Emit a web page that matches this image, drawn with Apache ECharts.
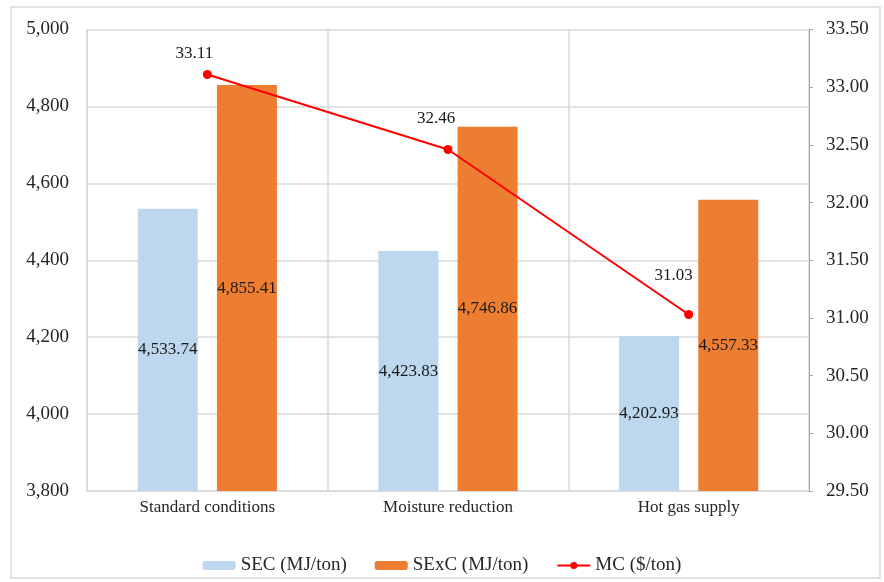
<!DOCTYPE html>
<html>
<head>
<meta charset="utf-8">
<script src="https://cdn.jsdelivr.net/npm/echarts@6/dist/echarts.min.js"></script>
<style>
  html, body { margin: 0; padding: 0; background: #ffffff; }
  #chart { width: 884px; height: 582px; }
</style>
</head>
<body>
<div id="chart"></div>
<script>
// Scenario names along the x axis
const categories = ['Standard conditions', 'Moisture reduction', 'Hot gas supply'];

// Specific energy consumption (left axis)
const secValues = [4533.74, 4423.83, 4202.93];
// Specific exergy consumption (left axis)
const sexcValues = [4855.41, 4746.86, 4557.33];
// Manufacturing cost (right axis)
const mcValues = [33.11, 32.46, 31.03];

const seriesNames = ['SEC (MJ/ton)', 'SExC (MJ/ton)', 'MC ($/ton)'];

// Where each cost label sits relative to its point
const mcLabelShift = [[-13, -21], [-12, -31], [-15, -39]];

const FONT = '"Liberation Serif", "Times New Roman", serif';
const TEXT = '#262626';

const chart = echarts.init(document.getElementById('chart'), null, { renderer: 'canvas' });

const fmtThousands = v => v.toLocaleString('en-US', { minimumFractionDigits: 0, maximumFractionDigits: 0 });
const fmtTwo = v => v.toLocaleString('en-US', { minimumFractionDigits: 2, maximumFractionDigits: 2 });

const barLabel = {
  show: true,
  position: 'inside',
  fontFamily: FONT,
  fontSize: 17,
  color: '#1a1a1a',
  formatter: p => fmtTwo(p.value)
};

chart.setOption({
  backgroundColor: '#ffffff',
  animation: false,
  graphic: [{
    type: 'rect',
    shape: { x: 11, y: 7, width: 869, height: 571 },
    style: { fill: 'none', stroke: '#d9d9d9', lineWidth: 1.5 },
    silent: true
  }],
  grid: { left: 87, right: 75, top: 29.5, bottom: 91, containLabel: false },
  legend: {
    left: 'center',
    top: 551,
    itemWidth: 33,
    itemHeight: 9,
    itemGap: 28,
    textStyle: { fontFamily: FONT, fontSize: 19, color: TEXT },
    data: seriesNames
  },
  xAxis: {
    type: 'category',
    data: categories,
    boundaryGap: true,
    axisLine: { show: true, lineStyle: { color: '#d9d9d9', width: 1.5 } },
    axisTick: { show: false },
    splitLine: { show: true, lineStyle: { color: '#d9d9d9', width: 1.5 } },
    axisLabel: { fontFamily: FONT, fontSize: 17, color: TEXT, margin: 8 }
  },
  yAxis: [{
    type: 'value',
    min: 3800,
    max: 5000,
    interval: 200,
    axisLine: { show: true, lineStyle: { color: '#d9d9d9', width: 1.5 } },
    axisTick: { show: false },
    splitLine: { show: true, lineStyle: { color: '#d9d9d9', width: 1.5 } },
    axisLabel: { fontFamily: FONT, fontSize: 19, color: TEXT, margin: 18, formatter: fmtThousands }
  }, {
    type: 'value',
    position: 'right',
    min: 29.5,
    max: 33.5,
    interval: 0.5,
    axisLine: { show: true, lineStyle: { color: '#a6a6a6', width: 1 } },
    axisTick: { show: true, inside: false, length: 4, lineStyle: { color: '#a6a6a6' } },
    splitLine: { show: false },
    axisLabel: { fontFamily: FONT, fontSize: 19, color: TEXT, margin: 17, formatter: v => v.toFixed(2) }
  }],
  series: [{
    name: seriesNames[0],
    type: 'bar',
    yAxisIndex: 0,
    data: secValues,
    barWidth: 60,
    barGap: '32%',
    itemStyle: { color: '#bdd7ee' },
    label: barLabel
  }, {
    name: seriesNames[1],
    type: 'bar',
    yAxisIndex: 0,
    data: sexcValues,
    barWidth: 60,
    barGap: '32%',
    itemStyle: { color: '#ed7d31' },
    label: barLabel
  }, {
    name: seriesNames[2],
    type: 'line',
    yAxisIndex: 1,
    data: mcValues.map((v, i) => ({
      value: v,
      label: { offset: mcLabelShift[i] }
    })),
    symbol: 'circle',
    symbolSize: 9,
    lineStyle: { color: '#ff0000', width: 2 },
    itemStyle: { color: '#ff0000' },
    label: {
      show: true,
      position: 'inside',
      fontFamily: FONT,
      fontSize: 17,
      color: '#1a1a1a',
      formatter: p => fmtTwo(p.value)
    },
    z: 5
  }]
});
</script>
</body>
</html>
